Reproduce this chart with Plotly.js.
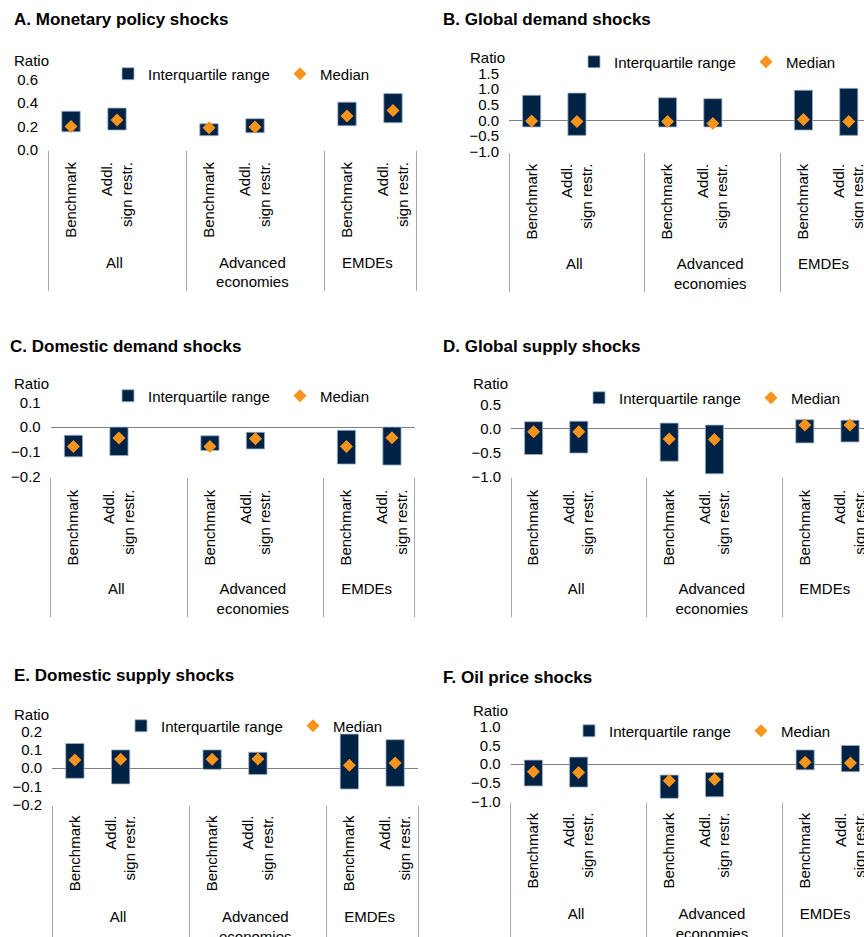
<!DOCTYPE html>
<html>
<head>
<meta charset="utf-8">
<script src="https://cdn.plot.ly/plotly-3.0.1.min.js"></script>
<style>html,body{margin:0;padding:0;overflow:hidden;background:#fff}</style>
</head>
<body>
<div id="chart" style="width:864px;height:937px"></div>
<script>
// ---- data ----
const groups = ["All", "Advanced<br>economies", "EMDEs"];
const variants = ["\u00a0\u00a0Benchmark", "Addl.<br>sign restr."];
const panelTitles = ["A. Monetary policy shocks", "B. Global demand shocks",
  "C. Domestic demand shocks", "D. Global supply shocks",
  "E. Domestic supply shocks", "F. Oil price shocks"];

// order: All-Bench, All-Addl, AE-Bench, AE-Addl, EMDE-Bench, EMDE-Addl
const aLow  = [0.155, 0.17, 0.122, 0.147, 0.206, 0.232];
const aHigh = [0.33, 0.357, 0.223, 0.266, 0.407, 0.48];
const aMed  = [0.20, 0.255, 0.19, 0.195, 0.29, 0.337];

const bLow  = [-0.21, -0.48, -0.21, -0.21, -0.31, -0.48];
const bHigh = [0.80, 0.87, 0.72, 0.69, 0.96, 1.02];
const bMed  = [-0.02, -0.04, -0.04, -0.10, 0.03, -0.04];

const cLow  = [-0.12, -0.115, -0.094, -0.088, -0.149, -0.153];
const cHigh = [-0.033, 0.0, -0.035, -0.021, -0.013, 0.0];
const cMed  = [-0.078, -0.044, -0.078, -0.047, -0.078, -0.043];

const dLow  = [-0.54, -0.51, -0.68, -0.94, -0.30, -0.28];
const dHigh = [0.14, 0.15, 0.11, 0.07, 0.18, 0.17];
const dMed  = [-0.07, -0.07, -0.22, -0.23, 0.07, 0.07];

const eLow  = [-0.056, -0.087, -0.007, -0.035, -0.115, -0.10];
const eHigh = [0.135, 0.10, 0.10, 0.087, 0.187, 0.156];
const eMed  = [0.044, 0.048, 0.048, 0.05, 0.015, 0.028];

const fLow  = [-0.58, -0.61, -0.91, -0.87, -0.15, -0.20];
const fHigh = [0.11, 0.19, -0.29, -0.22, 0.38, 0.50];
const fMed  = [-0.20, -0.22, -0.44, -0.41, 0.05, 0.03];

const yRanges = [[0, 0.6], [-1, 1.5], [-0.2, 0.1], [-1, 0.5], [-0.2, 0.2], [-1, 1]];
const yDtick  = [0.2, 0.5, 0.1, 0.5, 0.1, 0.5];

// ---- styles ----
const W = 864, H = 937;
const NAVY = "#002345", ORANGE = "#F7941D";
const FONT = "Liberation Sans, Arial, sans-serif";
// plot boxes in pixels [x0, x1, yTop, yBottom]
const boxes = [
  [48, 416, 79.5, 150],
  [509, 864, 73.3, 151.7],
  [50.7, 414.7, 402.3, 476.7],
  [511, 864, 404.3, 476.7],
  [52, 418, 731.7, 804.5],
  [510.7, 864, 726.7, 801.7]
];
const catW = [46, 45.3, 45.5, 45.2, 45.75, 45.3];
const xStandoff = [8, 8, 9, 9, 7, 7];
const titlePos = [[12, 20], [441, 20], [8, 346], [441, 346], [12, 675], [441, 677]];
const ratioPos = [[12, 60], [468, 57], [12, 384], [471, 384], [12, 714], [471, 710]];
const legPos = [[148, 74], [614, 62], [148, 396], [619, 398], [161, 726], [609, 731]];

const panels = [
  [aLow, aHigh, aMed], [bLow, bHigh, bMed], [cLow, cHigh, cMed],
  [dLow, dHigh, dMed], [eLow, eHigh, eMed], [fLow, fHigh, fMed]
];

// build multicategory x with a blank slot after the first two groups
function buildX() {
  const l1 = [], l2 = [], idx = [];
  groups.forEach((g, gi) => {
    variants.forEach((v, vi) => { l1.push(g); l2.push(v); idx.push(gi * 2 + vi); });
    if (gi < groups.length - 1) { l1.push(g); l2.push(" "); idx.push(-1); }
  });
  return {x: [l1, l2], idx};
}
const X = buildX();

const traces = [];
const layout = {
  width: W, height: H,
  margin: {l: 0, r: 0, t: 0, b: 0, autoexpand: false},
  paper_bgcolor: "#fff", plot_bgcolor: "rgba(0,0,0,0)",
  font: {family: FONT, size: 15, color: "#000"},
  showlegend: true,
  annotations: [],
  hovermode: false
};

panels.forEach((p, i) => {
  const [lo, hi, md] = p;
  const n = i + 1;
  const xa = n === 1 ? "x" : "x" + n, ya = n === 1 ? "y" : "y" + n;
  const lg = n === 1 ? "legend" : "legend" + n;
  const base = X.idx.map(k => k < 0 ? null : lo[k]);
  const len = X.idx.map(k => k < 0 ? null : hi[k] - lo[k]);
  const med = X.idx.map(k => k < 0 ? null : md[k]);
  traces.push({
    type: "bar", x: X.x, y: len, base: base, xaxis: xa, yaxis: ya,
    name: "Interquartile range", legend: lg, legendwidth: 127, width: 0.4,
    marker: {color: NAVY, line: {color: "#9fb0c4", width: 0.8}}
  });
  traces.push({
    type: "scatter", mode: "markers", x: X.x, y: med, xaxis: xa, yaxis: ya,
    name: "Median", legend: lg, legendwidth: 55,
    marker: {symbol: "diamond", size: 10, color: ORANGE}
  });
  const b = boxes[i];
  const nCats = (b[1] - b[0]) / catW[i];
  layout["xaxis" + (n === 1 ? "" : n)] = {
    type: "multicategory",
    domain: [b[0] / W, b[1] / W],
    anchor: ya,
    range: [-0.5, nCats - 0.5],
    tickangle: -90,
    ticklabelstandoff: xStandoff[i],
    tickfont: {family: FONT, size: 15, color: "#000"},
    showdividers: true, dividercolor: "#a6a6a6", dividerwidth: 1,
    showline: false, showgrid: false, ticks: "", fixedrange: true
  };
  layout["yaxis" + (n === 1 ? "" : n)] = {
    domain: [1 - b[3] / H, 1 - b[2] / H],
    anchor: xa,
    range: yRanges[i], dtick: yDtick[i], tick0: 0,
    tickformat: ".1f",
    showgrid: false, showline: false, ticks: "",
    zeroline: i !== 0, zerolinecolor: "#808080", zerolinewidth: 1,
    ticklabelstandoff: 9,
    tickfont: {family: FONT, size: 15, color: "#000"},
    fixedrange: true
  };
  layout[lg] = {
    orientation: "h", xref: "paper", yref: "paper",
    x: (legPos[i][0] - 40) / W, y: 1 - legPos[i][1] / H,
    xanchor: "left", yanchor: "middle",
    bgcolor: "rgba(0,0,0,0)", borderwidth: 0,
    font: {family: FONT, size: 15, color: "#000"},
    itemclick: false, itemdoubleclick: false
  };
  layout.annotations.push({
    text: "<b>" + panelTitles[i] + "</b>", xref: "paper", yref: "paper",
    x: titlePos[i][0] / W, y: 1 - titlePos[i][1] / H,
    xanchor: "left", yanchor: "middle", showarrow: false,
    font: {family: FONT, size: 17, color: "#000"}
  });
  layout.annotations.push({
    text: "Ratio", xref: "paper", yref: "paper",
    x: ratioPos[i][0] / W, y: 1 - ratioPos[i][1] / H,
    xanchor: "left", yanchor: "middle", showarrow: false,
    font: {family: FONT, size: 15, color: "#000"}
  });
});

Plotly.newPlot("chart", traces, layout, {displayModeBar: false, staticPlot: true});
</script>
</body>
</html>
